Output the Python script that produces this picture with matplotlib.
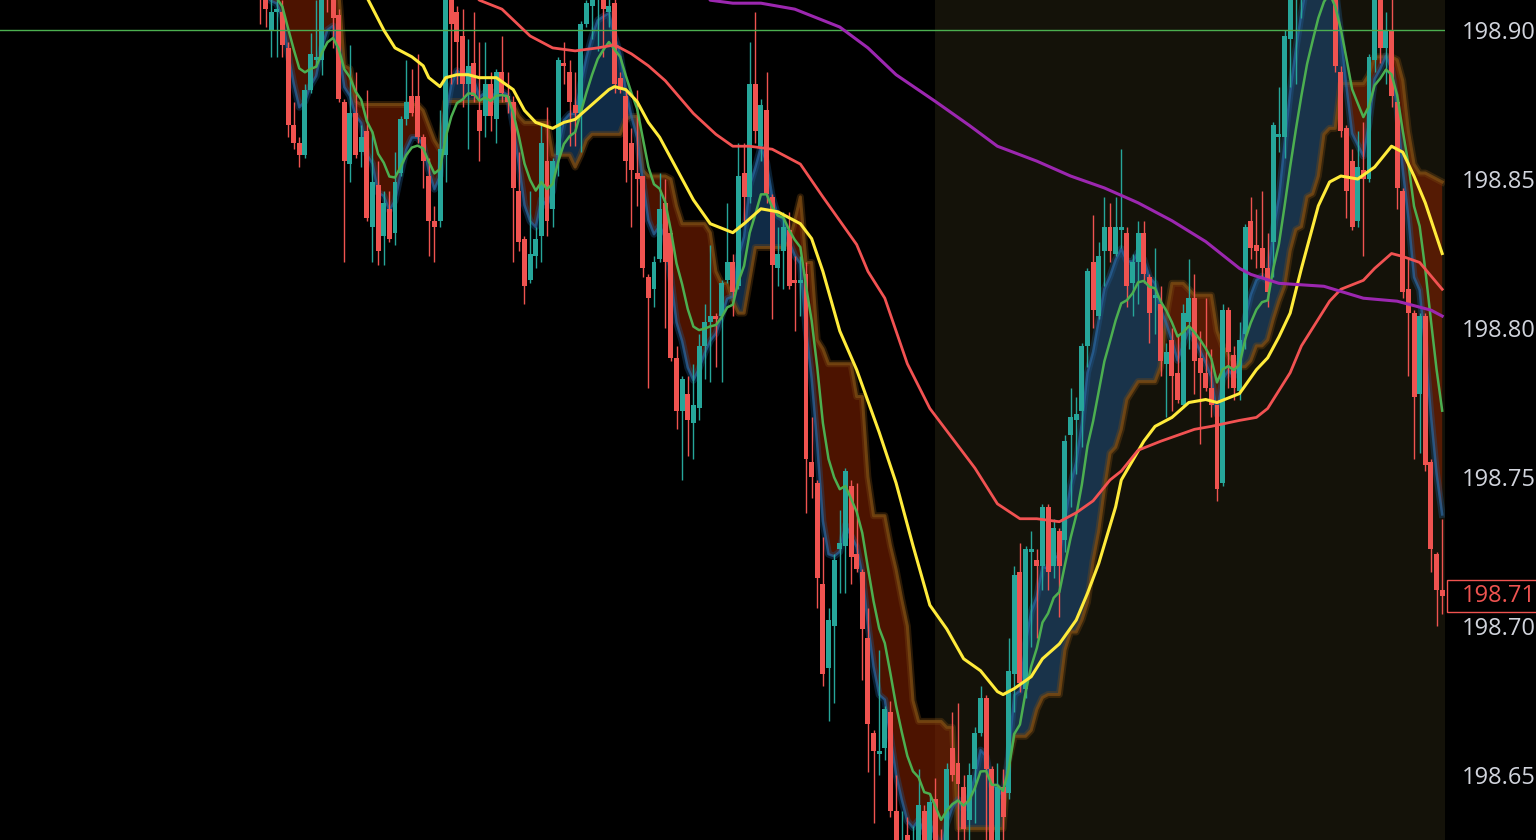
import numpy as np
import pandas as pd
import matplotlib
matplotlib.use("Agg")
import matplotlib.pyplot as plt
from matplotlib.patches import Rectangle
from matplotlib.transforms import blended_transform_factory

plt.rcParams["font.family"] = ["Open Sans", "DejaVu Sans"]

# ── candle data (one value per bar, left to right) ────────────────────────────
opens = [
    198.922, 198.914, 198.900, 198.906, 198.906, 198.894, 198.868, 198.862, 198.858, 198.880,
    198.890, 198.890, 198.918, 198.912, 198.905, 198.876, 198.855, 198.872, 198.859, 198.866,
    198.834, 198.848, 198.831, 198.840, 198.832, 198.852, 198.870, 198.878, 198.878, 198.864,
    198.851, 198.836, 198.836, 198.858, 198.912, 198.906, 198.898, 198.882, 198.889, 198.873,
    198.871, 198.882, 198.870, 198.886, 198.878, 198.876, 198.846, 198.830, 198.816, 198.824,
    198.831, 198.856, 198.840, 198.858, 198.889, 198.886, 198.875, 198.872, 198.902, 198.908,
    198.910, 198.914, 198.906, 198.909, 198.884, 198.878, 198.862, 198.852, 198.851, 198.817,
    198.813, 198.823, 198.842, 198.832, 198.790, 198.772, 198.778, 198.768, 198.773, 198.794,
    198.802, 198.804, 198.804, 198.816, 198.822, 198.814, 198.852, 198.844, 198.882, 198.861,
    198.873, 198.844, 198.820, 198.826, 198.833, 198.816, 198.815, 198.818, 198.755, 198.748,
    198.714, 198.686, 198.700, 198.726, 198.727, 198.747, 198.724, 198.718, 198.696, 198.664,
    198.657, 198.659, 198.671, 198.638, 198.618, 198.630, 198.616, 198.622, 198.638, 198.620,
    198.642, 198.621, 198.618, 198.659, 198.654, 198.646, 198.635, 198.652, 198.664, 198.676,
    198.652, 198.625, 198.646, 198.644, 198.684, 198.718, 198.679, 198.725, 198.722, 198.720,
    198.740, 198.720, 198.732, 198.729, 198.764, 198.769, 198.772, 198.794, 198.822, 198.804,
    198.826, 198.834, 198.825, 198.833, 198.832, 198.815, 198.822, 198.832, 198.817, 198.810,
    198.808, 198.788, 198.796, 198.785, 198.774, 198.802, 198.810, 198.790, 198.785, 198.780,
    198.774, 198.748, 198.806, 198.791, 198.779, 198.798, 198.836, 198.828, 198.827, 198.820,
    198.829, 198.864, 198.864, 198.897, 198.913, 198.921, 198.930, 198.936, 198.932, 198.938,
    198.934, 198.925, 198.886, 198.867, 198.856, 198.836, 198.853, 198.850, 198.890, 198.913,
    198.894, 198.900, 198.876, 198.846, 198.813, 198.805, 198.778, 198.804, 198.755, 198.724,
    198.712,
]
highs = [
    198.925, 198.918, 198.912, 198.910, 198.910, 198.896, 198.876, 198.864, 198.882, 198.899,
    198.910, 198.916, 198.921, 198.914, 198.907, 198.877, 198.895, 198.886, 198.868, 198.880,
    198.866, 198.856, 198.846, 198.846, 198.859, 198.871, 198.890, 198.887, 198.892, 198.865,
    198.857, 198.841, 198.873, 198.916, 198.914, 198.908, 198.907, 198.897, 198.906, 198.896,
    198.896, 198.886, 198.887, 198.898, 198.886, 198.878, 198.859, 198.831, 198.846, 198.834,
    198.868, 198.874, 198.857, 198.891, 198.896, 198.890, 198.886, 198.903, 198.910, 198.914,
    198.917, 198.916, 198.912, 198.911, 198.886, 198.880, 198.867, 198.880, 198.851, 198.818,
    198.824, 198.852, 198.850, 198.833, 198.794, 198.784, 198.784, 198.788, 198.798, 198.808,
    198.828, 198.805, 198.816, 198.842, 198.825, 198.862, 198.862, 198.896, 198.906, 198.877,
    198.886, 198.845, 198.834, 198.839, 198.839, 198.824, 198.824, 198.822, 198.770, 198.749,
    198.730, 198.706, 198.724, 198.739, 198.753, 198.749, 198.748, 198.719, 198.706, 198.665,
    198.692, 198.673, 198.675, 198.650, 198.638, 198.636, 198.633, 198.652, 198.640, 198.644,
    198.649, 198.632, 198.654, 198.671, 198.674, 198.650, 198.654, 198.666, 198.680, 198.677,
    198.653, 198.654, 198.652, 198.696, 198.720, 198.728, 198.727, 198.732, 198.726, 198.741,
    198.741, 198.736, 198.733, 198.764, 198.780, 198.777, 198.795, 198.820, 198.838, 198.829,
    198.844, 198.842, 198.844, 198.860, 198.834, 198.825, 198.836, 198.836, 198.818, 198.827,
    198.814, 198.795, 198.800, 198.798, 198.808, 198.823, 198.818, 198.799, 198.810, 198.793,
    198.774, 198.808, 198.807, 198.794, 198.802, 198.835, 198.844, 198.840, 198.846, 198.832,
    198.869, 198.881, 198.900, 198.916, 198.926, 198.934, 198.940, 198.942, 198.944, 198.943,
    198.938, 198.927, 198.888, 198.868, 198.860, 198.866, 198.869, 198.892, 198.916, 198.917,
    198.906, 198.911, 198.877, 198.847, 198.823, 198.806, 198.805, 198.805, 198.756, 198.725,
    198.736,
]
lows = [
    198.902, 198.901, 198.891, 198.891, 198.891, 198.864, 198.860, 198.854, 198.857, 198.879,
    198.888, 198.885, 198.906, 198.894, 198.876, 198.822, 198.849, 198.857, 198.854, 198.836,
    198.822, 198.821, 198.821, 198.829, 198.828, 198.851, 198.868, 198.871, 198.862, 198.847,
    198.824, 198.822, 198.834, 198.849, 198.882, 198.882, 198.874, 198.860, 198.876, 198.856,
    198.864, 198.866, 198.862, 198.876, 198.872, 198.822, 198.826, 198.808, 198.815, 198.820,
    198.822, 198.831, 198.834, 198.851, 198.882, 198.861, 198.861, 198.859, 198.901, 198.897,
    198.893, 198.891, 198.901, 198.879, 198.879, 198.849, 198.834, 198.841, 198.817, 198.780,
    198.807, 198.822, 198.800, 198.789, 198.766, 198.749, 198.757, 198.756, 198.769, 198.783,
    198.782, 198.787, 198.782, 198.815, 198.804, 198.813, 198.836, 198.842, 198.862, 198.856,
    198.842, 198.803, 198.814, 198.813, 198.813, 198.799, 198.804, 198.738, 198.743, 198.706,
    198.680, 198.668, 198.674, 198.711, 198.711, 198.714, 198.718, 198.682, 198.651, 198.634,
    198.650, 198.655, 198.636, 198.620, 198.615, 198.612, 198.610, 198.618, 198.616, 198.615,
    198.614, 198.610, 198.615, 198.648, 198.625, 198.625, 198.625, 198.634, 198.663, 198.625,
    198.620, 198.620, 198.626, 198.642, 198.671, 198.678, 198.676, 198.693, 198.696, 198.712,
    198.712, 198.716, 198.703, 198.725, 198.740, 198.751, 198.760, 198.787, 198.800, 198.803,
    198.814, 198.822, 198.824, 198.827, 198.807, 198.804, 198.808, 198.815, 198.795, 198.798,
    198.784, 198.770, 198.772, 198.775, 198.773, 198.793, 198.778, 198.761, 198.779, 198.770,
    198.742, 198.747, 198.780, 198.776, 198.776, 198.793, 198.823, 198.820, 198.817, 198.807,
    198.817, 198.859, 198.857, 198.881, 198.882, 198.904, 198.922, 198.925, 198.926, 198.928,
    198.918, 198.886, 198.864, 198.837, 198.833, 198.834, 198.824, 198.849, 198.886, 198.889,
    198.882, 198.874, 198.840, 198.810, 198.784, 198.756, 198.758, 198.752, 198.718, 198.700,
    198.704,
]
closes = [
    198.914, 198.907, 198.906, 198.907, 198.895, 198.868, 198.862, 198.858, 198.880, 198.892,
    198.891, 198.913, 198.912, 198.904, 198.877, 198.856, 198.872, 198.858, 198.864, 198.837,
    198.849, 198.826, 198.842, 198.830, 198.849, 198.870, 198.876, 198.872, 198.864, 198.856,
    198.836, 198.834, 198.860, 198.912, 198.902, 198.896, 198.882, 198.888, 198.878, 198.866,
    198.882, 198.871, 198.886, 198.879, 198.876, 198.847, 198.829, 198.814, 198.825, 198.830,
    198.862, 198.836, 198.856, 198.890, 198.888, 198.876, 198.872, 198.902, 198.909, 198.912,
    198.914, 198.907, 198.908, 198.882, 198.880, 198.856, 198.853, 198.850, 198.820, 198.810,
    198.822, 198.840, 198.822, 198.790, 198.772, 198.783, 198.769, 198.774, 198.794, 198.802,
    198.804, 198.803, 198.815, 198.822, 198.812, 198.851, 198.844, 198.882, 198.866, 198.875,
    198.845, 198.821, 198.825, 198.834, 198.814, 198.815, 198.816, 198.756, 198.750, 198.716,
    198.684, 198.702, 198.722, 198.728, 198.752, 198.723, 198.719, 198.699, 198.667, 198.658,
    198.658, 198.672, 198.638, 198.625, 198.625, 198.620, 198.628, 198.640, 198.622, 198.641,
    198.620, 198.615, 198.652, 198.650, 198.647, 198.632, 198.650, 198.664, 198.676, 198.652,
    198.626, 198.646, 198.636, 198.685, 198.717, 198.681, 198.726, 198.726, 198.720, 198.740,
    198.718, 198.733, 198.720, 198.762, 198.770, 198.771, 198.794, 198.819, 198.806, 198.824,
    198.834, 198.826, 198.834, 198.834, 198.814, 198.822, 198.832, 198.818, 198.805, 198.811,
    198.789, 198.792, 198.784, 198.776, 198.805, 198.810, 198.789, 198.785, 198.780, 198.774,
    198.746, 198.806, 198.792, 198.780, 198.796, 198.834, 198.827, 198.826, 198.820, 198.812,
    198.868, 198.865, 198.898, 198.914, 198.922, 198.930, 198.936, 198.932, 198.938, 198.934,
    198.925, 198.888, 198.866, 198.846, 198.834, 198.854, 198.850, 198.891, 198.913, 198.894,
    198.900, 198.878, 198.847, 198.812, 198.805, 198.777, 198.804, 198.754, 198.726, 198.712,
    198.710,
]

# trailing band of the cloud indicator, read bar by bar
trail = [
    198.930, 198.930, 198.930, 198.930, 198.930, 198.930, 198.930, 198.930, 198.930, 198.930,
    198.930, 198.930, 198.930, 198.930, 198.913, 198.888, 198.887, 198.876, 198.875, 198.875,
    198.875, 198.875, 198.875, 198.875, 198.875, 198.875, 198.875, 198.875, 198.875, 198.873,
    198.868, 198.863, 198.860, 198.876, 198.876, 198.876, 198.876, 198.876, 198.876, 198.876,
    198.876, 198.876, 198.876, 198.876, 198.876, 198.875, 198.871, 198.869, 198.869, 198.869,
    198.869, 198.869, 198.858, 198.858, 198.858, 198.858, 198.854, 198.858, 198.863, 198.865,
    198.865, 198.865, 198.865, 198.865, 198.865, 198.870, 198.871, 198.871, 198.853, 198.851,
    198.851, 198.851, 198.851, 198.850, 198.841, 198.835, 198.835, 198.835, 198.835, 198.835,
    198.832, 198.819, 198.815, 198.815, 198.809, 198.805, 198.805, 198.816, 198.827, 198.827,
    198.827, 198.827, 198.827, 198.827, 198.829, 198.836, 198.844, 198.822, 198.822, 198.796,
    198.793, 198.788, 198.788, 198.788, 198.788, 198.788, 198.777, 198.777, 198.750, 198.737,
    198.737, 198.737, 198.727, 198.719, 198.709, 198.700, 198.675, 198.668, 198.668, 198.668,
    198.668, 198.668, 198.666, 198.666, 198.632, 198.632, 198.632, 198.632, 198.632, 198.632,
    198.632, 198.632, 198.632, 198.655, 198.663, 198.663, 198.663, 198.665, 198.672, 198.676,
    198.677, 198.677, 198.677, 198.692, 198.698, 198.698, 198.702, 198.708, 198.722, 198.732,
    198.746, 198.758, 198.760, 198.766, 198.776, 198.779, 198.782, 198.782, 198.782, 198.782,
    198.787, 198.804, 198.815, 198.815, 198.815, 198.813, 198.811, 198.811, 198.811, 198.811,
    198.799, 198.794, 198.791, 198.788, 198.787, 198.787, 198.789, 198.794, 198.794, 198.796,
    198.803, 198.809, 198.814, 198.826, 198.833, 198.834, 198.844, 198.845, 198.851, 198.865,
    198.867, 198.867, 198.882, 198.882, 198.882, 198.882, 198.882, 198.885, 198.891, 198.891,
    198.891, 198.891, 198.890, 198.883, 198.866, 198.855, 198.852, 198.852, 198.851, 198.850,
    198.849,
]

# moving averages at sample bars
yellow_bar = [17, 19, 22, 24, 27, 29, 30, 32, 33, 35, 37, 39, 42, 45, 47, 49, 52, 54, 56, 59,
              62, 63, 65, 67, 69, 71, 73, 77, 80, 84, 86, 89, 92, 96, 98, 100, 103, 106, 110, 113,
              116, 119, 122, 125, 128, 131, 132, 134, 137, 139, 142, 145, 147, 149, 152, 153, 157, 159, 162, 165,
              168, 170, 174, 177, 179, 181, 183, 185, 188, 190, 192, 195, 198, 201, 203, 205, 207, 210]
yellow_ma = [198.918, 198.911, 198.900, 198.894, 198.891, 198.888, 198.884, 198.881, 198.884, 198.885,
             198.885, 198.884, 198.884, 198.880, 198.873, 198.869, 198.867, 198.869, 198.870, 198.875,
             198.880, 198.881, 198.880, 198.876, 198.869, 198.864, 198.857, 198.843, 198.835, 198.832,
             198.835, 198.840, 198.839, 198.835, 198.830, 198.819, 198.799, 198.786, 198.765, 198.748,
             198.727, 198.707, 198.699, 198.689, 198.685, 198.678, 198.677, 198.679, 198.683, 198.689,
             198.694, 198.702, 198.711, 198.721, 198.740, 198.749, 198.762, 198.767, 198.770, 198.775,
             198.776, 198.775, 198.778, 198.786, 198.790, 198.797, 198.805, 198.820, 198.841, 198.849,
             198.851, 198.850, 198.854, 198.861, 198.859, 198.851, 198.842, 198.825]

red_bar = [37, 39, 43, 48, 52, 56, 60, 63, 66, 69, 72, 77, 81, 84, 87, 91, 96, 100, 103, 106,
           108, 111, 115, 119, 123, 127, 131, 135, 138, 142, 145, 148, 151, 153, 156, 160, 163, 166, 169, 174,
           177, 179, 181, 183, 185, 188, 190, 192, 196, 198, 201, 203, 206, 210]
red_ma = [198.914, 198.910, 198.907, 198.898, 198.894, 198.893, 198.894, 198.895, 198.892, 198.888,
          198.883, 198.872, 198.865, 198.861, 198.861, 198.860, 198.855, 198.844, 198.836, 198.828,
          198.819, 198.810, 198.788, 198.773, 198.763, 198.753, 198.741, 198.736, 198.736, 198.735,
          198.738, 198.742, 198.749, 198.752, 198.759, 198.762, 198.764, 198.766, 198.767, 198.769,
          198.770, 198.773, 198.779, 198.785, 198.794, 198.803, 198.809, 198.813, 198.816, 198.820,
          198.825, 198.824, 198.822, 198.813]

purple_bar = [78, 80, 84, 89, 95, 99, 103, 108, 113, 120, 126, 131, 138, 144, 150, 156, 162, 168, 174, 176,
              181, 189, 196, 202, 208, 210]
purple_ma = [198.916, 198.910, 198.909, 198.909, 198.907, 198.904, 198.901, 198.894, 198.885, 198.876,
             198.868, 198.861, 198.856, 198.851, 198.847, 198.842, 198.836, 198.829, 198.820, 198.818,
             198.815, 198.814, 198.810, 198.809, 198.806, 198.804]

price_ticks = [198.65, 198.70, 198.75, 198.80, 198.85, 198.90]
alert_level = 198.90
session_start = 119.9

# ── derived series ────────────────────────────────────────────────────────────
o = np.array(opens); h = np.array(highs); l = np.array(lows); c = np.array(closes)
bars = np.arange(len(c))
fast = pd.Series(c).ewm(span=5, adjust=False).mean().values
mid = pd.Series(c).ewm(span=10, adjust=False).mean().values
band = np.array(trail)

UP, DOWN = "#26a69a", "#ef5350"

fig = plt.figure(figsize=(15.36, 8.4), dpi=100, facecolor="black")
ax = fig.add_axes([0, 0, 1445 / 1536, 1])
ax.set_facecolor("black")
ax.set_xlim(-46.16, 210.5)
ax.set_ylim(198.62819, 198.91007)

ax.axvspan(session_start, 215, color="#141209", lw=0, zorder=0)

# cloud
ax.fill_between(bars, fast, band, where=fast >= band, interpolate=True,
                color=(30 / 255, 80 / 255, 128 / 255), alpha=0.55, lw=0, zorder=1)
ax.fill_between(bars, fast, band, where=fast < band, interpolate=True,
                color=(140 / 255, 36 / 255, 0), alpha=0.55, lw=0, zorder=1)
ax.plot(bars, band, color="#7a4a12", lw=5, alpha=0.35, zorder=2)
ax.plot(bars, band, color="#7a4a12", lw=2.2, alpha=0.8, zorder=2)
ax.plot(bars, fast, color="#1f5a8f", lw=5, alpha=0.35, zorder=2)
ax.plot(bars, fast, color="#2a66a0", lw=1.8, alpha=0.7, zorder=2)

# candles
col = np.where(c >= o, UP, DOWN)
ax.vlines(bars, l, h, colors=col, lw=1, zorder=3)
body = np.maximum(np.abs(c - o), 0.0004)
ax.bar(bars, body, bottom=np.minimum(o, c), width=0.88, color=col, lw=0, zorder=3)

ax.axhline(alert_level, color="#4caf50", lw=1, zorder=4)

ax.plot(bars, mid, color="#4caf50", lw=1.8, zorder=5)
ax.plot(yellow_bar, yellow_ma, color="#ffeb3b", lw=2.2, zorder=5)
ax.plot(red_bar, red_ma, color="#f25252", lw=2.0, zorder=5)
ax.plot(purple_bar, purple_ma, color="#9c27b0", lw=2.2, zorder=5)

# price scale
for s in ax.spines.values():
    s.set_visible(False)
ax.set_xticks([])
ax.yaxis.tick_right()
ax.set_yticks(price_ticks)
ax.set_yticklabels([f"{p:.2f}" for p in price_ticks])
ax.tick_params(axis="y", length=0, pad=12, labelsize=17, labelcolor="#d1d4dc")

last = closes[-1]
tr = blended_transform_factory(fig.transFigure, ax.transData)
box_h = 32 * (ax.get_ylim()[1] - ax.get_ylim()[0]) / 840
fig.patches.append(Rectangle((1447 / 1536, last - box_h / 2), 0.06, box_h, transform=tr,
                             facecolor="black", edgecolor=DOWN, lw=1, zorder=6))
fig.text(1462 / 1536, last, f"{last:.2f}", transform=tr, color=DOWN, fontsize=17,
         va="center", ha="left", zorder=7)

fig.savefig("out.png", dpi=100, facecolor="black")
